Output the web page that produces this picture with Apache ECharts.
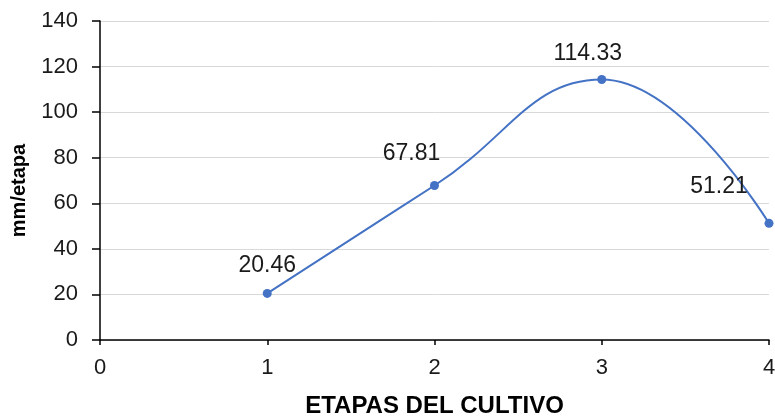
<!DOCTYPE html>
<html>
<head>
<meta charset="utf-8">
<script src="https://cdn.jsdelivr.net/npm/echarts@6/dist/echarts.min.js"></script>
<style>
  html, body { margin: 0; padding: 0; background: #fff; }
  #chart { width: 775px; height: 416px; }
</style>
</head>
<body>
<div id="chart"></div>
<script>
// Crop stages and water demand per stage (mm/etapa)
const etapas = [1, 2, 3, 4];
const mmPorEtapa = [20.46, 67.81, 114.33, 51.21];
const yTicks = [0, 20, 40, 60, 80, 100, 120, 140];
const xTicks = [0, 1, 2, 3, 4];

// Per-point label nudges so values sit clear of the curve
const labelOffsets = [[0, -2], [-23, -6], [-14, 0], [-50, -11]];

const FONT = '"Liberation Sans", Arial, sans-serif';
const TEXT = '#1a1a1a';
const chart = echarts.init(document.getElementById('chart'), null, { renderer: 'canvas' });

chart.setOption({
  backgroundColor: '#ffffff',
  animation: false,
  grid: { left: 100, right: 6, top: 21, bottom: 76, containLabel: false, outerBoundsMode: 'none' },
  xAxis: {
    type: 'value',
    min: xTicks[0],
    max: xTicks[xTicks.length - 1],
    interval: 1,
    name: 'ETAPAS DEL CULTIVO',
    nameLocation: 'middle',
    nameGap: 54,
    nameTextStyle: { fontFamily: FONT, fontSize: 24, fontWeight: 'bold', color: '#000' },
    axisLine: { show: true, lineStyle: { color: '#000', width: 1.5 } },
    axisTick: { show: true, inside: false, length: 5, lineStyle: { color: '#000', width: 1.5 } },
    axisLabel: { fontFamily: FONT, fontSize: 22, color: TEXT, margin: 17 },
    splitLine: { show: false }
  },
  yAxis: {
    type: 'value',
    min: yTicks[0],
    max: yTicks[yTicks.length - 1],
    interval: 20,
    name: 'mm/etapa',
    nameLocation: 'middle',
    nameRotate: 90,
    nameGap: 71,
    nameTextStyle: {
      fontFamily: FONT, fontSize: 20, fontWeight: 'bold', color: '#000',
      padding: [0, 20, 0, 0]
    },
    axisLine: { show: true, lineStyle: { color: '#000', width: 1.5 } },
    axisTick: { show: true, inside: false, length: 8, lineStyle: { color: '#000', width: 1.5 } },
    axisLabel: { fontFamily: FONT, fontSize: 22, color: TEXT, margin: 22 },
    splitLine: { show: true, lineStyle: { color: '#d9d9d9', width: 1 } }
  },
  series: [{
    type: 'line',
    smooth: 0.45,
    symbol: 'circle',
    symbolSize: 9,
    lineStyle: { color: '#4472c4', width: 2 },
    itemStyle: { color: '#4472c4' },
    data: etapas.map((x, i) => ({
      value: [x, mmPorEtapa[i]],
      label: { offset: labelOffsets[i] }
    })),
    label: {
      show: true,
      position: 'top',
      distance: 10,
      fontFamily: FONT,
      fontSize: 23,
      color: TEXT,
      formatter: p => p.value[1].toFixed(2)
    }
  }]
});
</script>
</body>
</html>
